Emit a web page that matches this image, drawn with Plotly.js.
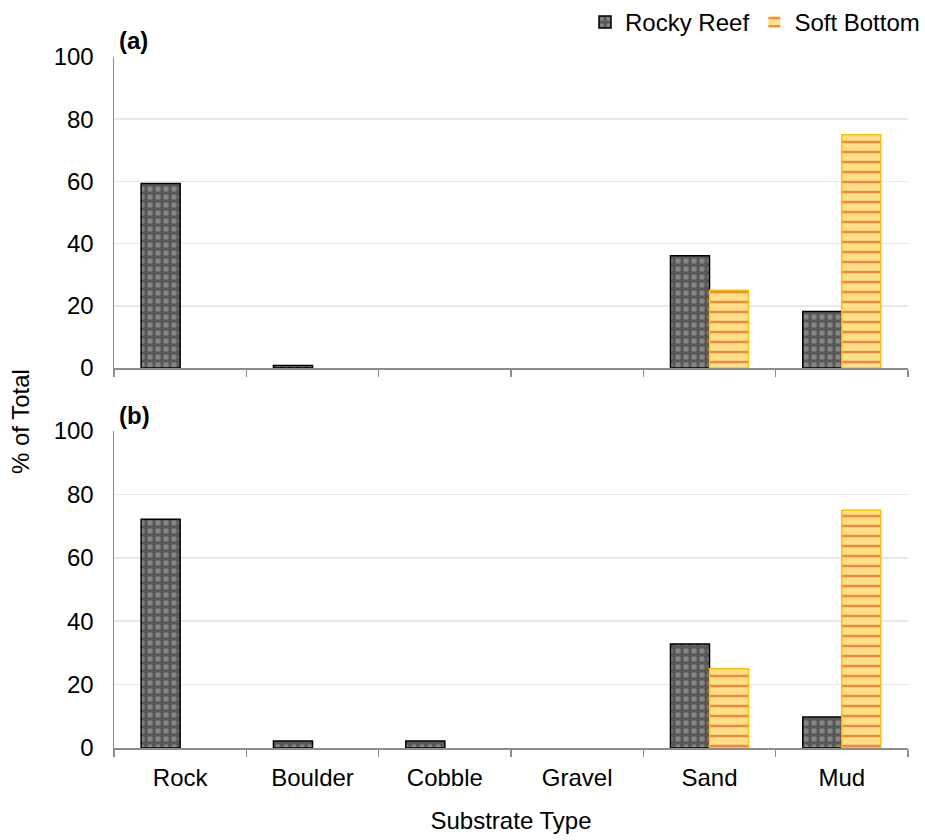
<!DOCTYPE html>
<html>
<head>
<meta charset="utf-8">
<script src="https://cdn.plot.ly/plotly-3.0.1.min.js"></script>
<style>html,body{margin:0;padding:0;background:#fff;}#chart{width:925px;height:840px;}</style>
</head>
<body>
<div id="chart"></div>
<script>
const categories = ["Rock", "Boulder", "Cobble", "Gravel", "Sand", "Mud"];
const seriesNames = ["Rocky Reef", "Soft Bottom"];
const rockyReefA = [59.3, 0.8, 0, 0, 36.1, 18.2];
const softBottomA = [0, 0, 0, 0, 25.0, 75.0];
const rockyReefB = [72.2, 2.2, 2.2, 0, 32.8, 9.8];
const softBottomB = [0, 0, 0, 0, 25.0, 75.0];
const yTicks = [0, 20, 40, 60, 80, 100];
const panelLabels = ["(a)", "(b)"];
const xTitle = "Substrate Type";
const yTitle = "% of Total";

const FONT = "Liberation Sans, Arial, sans-serif";
const FS = 24;

function rrStyle(vals) {
  return {
    color: "#595959",
    line: {color: "#000000", width: vals.map(v => v > 0 ? 1.5 : 0)},
    pattern: {shape: ".", fgcolor: "#858585", bgcolor: "#595959", size: 8, solidity: 0.35, fillmode: "replace"}
  };
}
function sbStyle(vals) {
  return {
    color: "#FFE08A",
    line: {color: "#FFC000", width: vals.map(v => v > 0 ? 1.5 : 0)},
    pattern: {shape: "-", fgcolor: "#EE8A3A", bgcolor: "#FFE08A", size: 10, solidity: 0.25, fillmode: "replace"}
  };
}

const traces = [
  {type: "bar", name: seriesNames[0], x: categories, y: rockyReefA, xaxis: "x", yaxis: "y", marker: rrStyle(rockyReefA), legendgroup: "rr", showlegend: true},
  {type: "bar", name: seriesNames[1], x: categories, y: softBottomA, xaxis: "x", yaxis: "y", marker: sbStyle(softBottomA), legendgroup: "sb", showlegend: true},
  {type: "bar", name: seriesNames[0], x: categories, y: rockyReefB, xaxis: "x2", yaxis: "y2", marker: rrStyle(rockyReefB), legendgroup: "rr", showlegend: false},
  {type: "bar", name: seriesNames[1], x: categories, y: softBottomB, xaxis: "x2", yaxis: "y2", marker: sbStyle(softBottomB), legendgroup: "sb", showlegend: false}
];

const H = 840, W = 925, ML = 114, MR = 17;
function py(px) { return 1 - px / H; }
function pxx(px) { return (px - ML) / (W - ML - MR); }

const yCommon = {
  range: [0, 100], tickvals: yTicks, showgrid: true, gridcolor: "#EDE8DD", gridwidth: 1.5,
  showline: true, linecolor: "#8C8C8C", linewidth: 1.5, ticks: "", zeroline: false, automargin: false,
  tickfont: {family: FONT, size: FS, color: "#000"}, ticklabelstandoff: 14, fixedrange: true
};
const xCommon = {
  type: "category", showgrid: false, showline: true, linecolor: "#8C8C8C", linewidth: 1.5,
  ticks: "outside", tickson: "boundaries", ticklen: 7, tickcolor: "#8C8C8C", tickwidth: 1.5, automargin: false,
  tickfont: {family: FONT, size: FS, color: "#000"}, ticklabelstandoff: 8, fixedrange: true
};

const layout = {
  width: W, height: H,
  margin: {l: ML, r: MR, t: 0, b: 0, autoexpand: false},
  paper_bgcolor: "#fff", plot_bgcolor: "#fff",
  barmode: "group", bargap: 0.41, bargroupgap: 0,
  font: {family: FONT, size: FS, color: "#000"},
  showlegend: true,
  legend: {
    orientation: "h", xref: "container", yref: "container", x: 1, xanchor: "right", y: 1, yanchor: "top",
    font: {family: FONT, size: FS, color: "#000"}, bgcolor: "rgba(0,0,0,0)", tracegroupgap: 0
  },
  xaxis: Object.assign({}, xCommon, {anchor: "y", showticklabels: false}),
  yaxis: Object.assign({}, yCommon, {domain: [py(368), py(57)], anchor: "x"}),
  xaxis2: Object.assign({}, xCommon, {anchor: "y2", showticklabels: true,
    title: {text: xTitle, font: {family: FONT, size: FS, color: "#000"}, standoff: 22}}),
  yaxis2: Object.assign({}, yCommon, {domain: [py(748), py(431)], anchor: "x2"}),
  annotations: [
    {text: "<b>" + panelLabels[0] + "</b>", xref: "paper", yref: "paper", x: pxx(117), y: py(40), xanchor: "left", yanchor: "middle", showarrow: false, font: {family: FONT, size: FS, color: "#000"}},
    {text: "<b>" + panelLabels[1] + "</b>", xref: "paper", yref: "paper", x: pxx(117), y: py(415), xanchor: "left", yanchor: "middle", showarrow: false, font: {family: FONT, size: FS, color: "#000"}},
    {text: yTitle, xref: "paper", yref: "paper", x: pxx(20), xanchor: "center", y: py(422), yanchor: "middle", textangle: -90, showarrow: false, font: {family: FONT, size: FS, color: "#000"}}
  ]
};

Plotly.newPlot("chart", traces, layout, {displayModeBar: false, staticPlot: true});
</script>
</body>
</html>
